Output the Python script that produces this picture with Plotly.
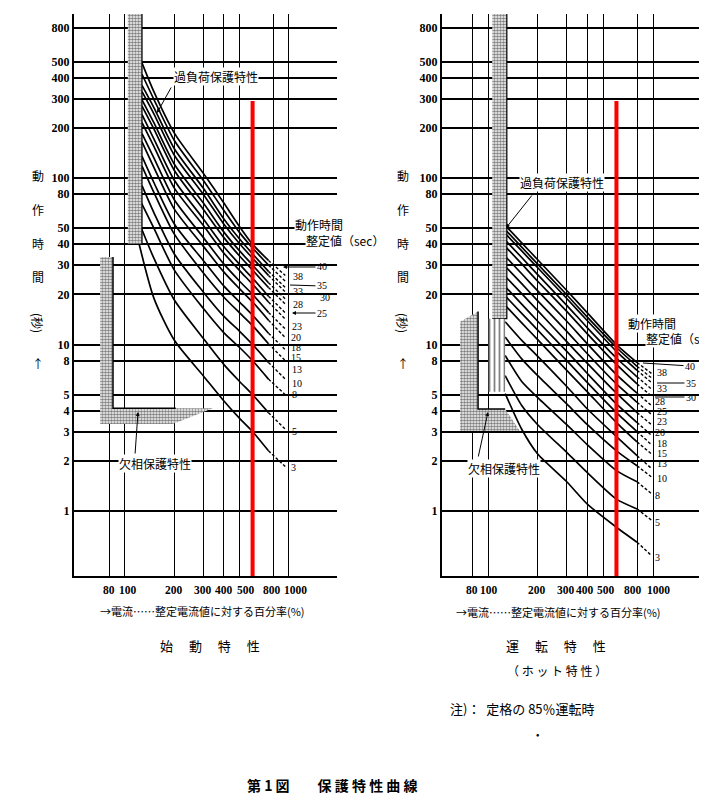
"""
第1図 保護特性曲線 (始動特性 / 運転特性)
"""
import plotly.graph_objects as go

W, H = 707, 803
OX, OY = 8, 8          # page margin of the html body
FW, FH = W - OX, H - OY
JP = "Noto Sans CJK JP"
NUM = "Liberation Serif"

# 動作時間整定値 (sec)
SETTINGS = [3, 5, 8, 10, 13, 15, 18, 20, 23, 25, 28, 30, 33, 35, 38, 40]

# 始動特性 -- seconds (same order as SETTINGS)
COLD_START_PCT = [118, 121, 125, 127, 127, 127, 127, 127, 127, 127, 127, 127, 127, 127, 127, 126]
COLD_START_SEC = [46, 55, 72, 90, 118, 135, 165, 185, 215, 240, 270, 295, 330, 360, 420, 500]
COLD_PCT = [150, 200, 300, 400, 500, 600, 750]
COLD_150 = [19, 33, 50, 62, 82, 94, 116, 132, 155, 172, 197, 215, 243, 265, 297, 330]
COLD_200 = [10.6, 18.5, 28, 35, 46, 53, 65, 74, 87, 97, 111, 121, 137, 150, 168, 186]
COLD_300 = [6.5, 10.9, 16.5, 20.7, 27, 32, 39, 44, 52, 57, 65, 71, 80, 87, 97, 107]
COLD_400 = [4.6, 7.6, 11.8, 14.8, 19.3, 22.5, 27.3, 30.5, 35.5, 38.8, 44, 47.5, 53, 57, 64, 71]
COLD_500 = [3.6, 6.0, 9.6, 12, 15.5, 18, 21.6, 24, 27.8, 30.3, 34, 36.5, 40.3, 43, 47, 51]
COLD_600 = [3, 5, 8, 10, 13, 15, 18, 20, 23, 25, 28, 30, 33, 35, 38, 40]
COLD_750 = [2.3, 3.9, 6.2, 7.8, 10.1, 11.7, 14, 15.6, 18, 19.5, 22, 23.5, 26, 27.5, 30, 32]
COLD_DASH_PCT = [750, 950]
COLD_950 = [1.85, 3.1, 5.0, 6.2, 8.0, 9.3, 11, 12.4, 14.2, 15.5, 17.5, 18.8, 20.7, 22, 24, 26]

# 運転特性 (ホット特性)
HOT_PCT = [127, 160, 200, 300, 400, 600, 800]
HOT_127 = [5.07, 6.5, 8.6, 11.1, 13.7, 17.2, 19.6, 22.3, 25.7, 29.5, 33.9, 38.9, 42.4, 46.5, 49, 52]
HOT_160 = [3.1, 4.3, 6.0, 8.2, 10.6, 13.5, 15.4, 17.5, 20.2, 23.2, 26.6, 30.5, 33.3, 36.5, 38.5, 40.8]
HOT_200 = [2.2, 3.3, 4.8, 6.5, 8.5, 10.7, 12.2, 13.8, 16, 18.3, 21, 24, 26.3, 28.9, 30.4, 32.3]
HOT_300 = [1.5, 2.25, 3.3, 4.4, 5.6, 7.0, 8.0, 9.1, 10.4, 12, 13.8, 15.8, 17.2, 18.9, 19.9, 21.1]
HOT_400 = [1.1, 1.7, 2.5, 3.3, 4.1, 5.2, 5.9, 6.7, 7.7, 8.8, 10.1, 11.6, 12.6, 13.9, 14.6, 15.5]
HOT_600 = [0.8, 1.18, 1.75, 2.3, 2.8, 3.4, 3.9, 4.4, 5.1, 5.8, 6.6, 7.6, 8.3, 9.1, 9.6, 10.0]
HOT_800 = [0.65, 1.03, 1.5, 1.87, 2.15, 2.6, 3.0, 3.4, 3.9, 4.5, 5.1, 5.8, 6.4, 7.0, 7.4, 7.8]
HOT_DASH_PCT = [800, 980]
HOT_980 = [0.54, 0.88, 1.27, 1.6, 1.8, 2.2, 2.5, 2.85, 3.3, 3.8, 4.3, 4.9, 5.4, 5.9, 6.3, 6.7]

# 600% marker
RED_PCT = [600, 600]
RED_SEC = [0.4, 290]

# hatched zones (percent, seconds)
L_BAND_PCT = [104, 127, 127, 104]
L_BAND_SEC = [40, 40, 1000, 1000]
L_PHASE_PCT = [70.5, 84.5, 84.5, 344, 196, 70.5]
L_PHASE_SEC = [33.6, 33.6, 4.15, 4.15, 3.33, 3.33]
R_BAND_PCT = [106, 130, 130, 106]
R_BAND_SEC = [14.3, 14.3, 1000, 1000]
R_BAND_LOW_PCT = [101, 127, 127, 101]
R_BAND_LOW_SEC = [5.2, 5.2, 14.3, 14.3]
R_PHASE_PCT = [67.7, 87, 87, 127, 156, 67.7]
R_PHASE_SEC = [13.7, 15.8, 4.1, 4.1, 3.03, 3.03]

X_TICKS = [80, 100, 200, 300, 400, 500, 800, 1000]
Y_TICKS = [1, 2, 3, 4, 5, 8, 10, 20, 30, 40, 50, 80, 100, 200, 300, 400, 500, 800]

# where the printed x tick numbers sit (pixel centres, they are nudged apart in print)
L_XLABEL_PX = [109, 128, 174, 203, 224, 246, 272, 295]
R_XLABEL_PX = [472, 489, 537, 566, 585, 606, 633, 658]


def px(x):
    return (x - OX) / FW


def py(y):
    return 1 - (y - OY) / FH


fig = go.Figure()

# curves
cold_cols = [COLD_150, COLD_200, COLD_300, COLD_400, COLD_500, COLD_600, COLD_750]
hot_cols = [HOT_127, HOT_160, HOT_200, HOT_300, HOT_400, HOT_600, HOT_800]
for i, t in enumerate(SETTINGS):
    fig.add_trace(go.Scatter(
        x=[COLD_START_PCT[i]] + COLD_PCT,
        y=[COLD_START_SEC[i]] + [c[i] for c in cold_cols],
        mode="lines", line=dict(color="black", width=1.7, shape="spline", smoothing=0.7),
        xaxis="x", yaxis="y", hoverinfo="skip"))
    fig.add_trace(go.Scatter(
        x=COLD_DASH_PCT, y=[COLD_750[i], COLD_950[i]],
        mode="lines", line=dict(color="black", width=1.4, dash="3px,2px"),
        xaxis="x", yaxis="y", hoverinfo="skip"))
    fig.add_trace(go.Scatter(
        x=HOT_PCT, y=[c[i] for c in hot_cols],
        mode="lines", line=dict(color="black", width=1.7, shape="spline", smoothing=0.6),
        xaxis="x2", yaxis="y2", hoverinfo="skip"))
    fig.add_trace(go.Scatter(
        x=HOT_DASH_PCT, y=[HOT_800[i], HOT_980[i]],
        mode="lines", line=dict(color="black", width=1.4, dash="3px,2px"),
        xaxis="x2", yaxis="y2", hoverinfo="skip"))

stipple = dict(shape=".", size=3, solidity=0.6, fgcolor="black", bgcolor="white")
for xs, ys, ax, ay, lw in [
        (L_BAND_PCT, L_BAND_SEC, "x", "y", 1.2),
        (L_PHASE_PCT, L_PHASE_SEC, "x", "y", 0),
        (R_BAND_PCT, R_BAND_SEC, "x2", "y2", 1.2),
        (R_PHASE_PCT, R_PHASE_SEC, "x2", "y2", 0)]:
    fig.add_trace(go.Scatter(
        x=xs, y=ys, fill="toself", mode="lines", fillpattern=stipple,
        line=dict(color="black", width=lw), xaxis=ax, yaxis=ay, hoverinfo="skip"))
fig.add_trace(go.Scatter(
    x=R_BAND_LOW_PCT, y=R_BAND_LOW_SEC, fill="toself", mode="lines",
    fillpattern=dict(shape="|", size=5, solidity=0.35, fgcolor="black", bgcolor="white"),
    line=dict(color="black", width=0), xaxis="x2", yaxis="y2", hoverinfo="skip"))

# inner edges of 欠相 zones
fig.add_trace(go.Scatter(x=L_PHASE_PCT[1:3] + [204], y=L_PHASE_SEC[1:4],
                         mode="lines", line=dict(color="black", width=1.5),
                         xaxis="x", yaxis="y", hoverinfo="skip"))
fig.add_trace(go.Scatter(x=R_PHASE_PCT[1:4], y=R_PHASE_SEC[1:4],
                         mode="lines", line=dict(color="black", width=1.5),
                         xaxis="x2", yaxis="y2", hoverinfo="skip"))

# red 600% lines
for ax, ay in [("x", "y"), ("x2", "y2")]:
    fig.add_trace(go.Scatter(x=RED_PCT, y=RED_SEC, mode="lines",
                             line=dict(color="#ff0000", width=4),
                             xaxis=ax, yaxis=ay, hoverinfo="skip"))

common = dict(type="log", showgrid=True, gridcolor="black", zeroline=False,
              showline=True, linecolor="black", linewidth=2, ticks="")
xcommon = dict(common, tickvals=X_TICKS, showticklabels=False, gridwidth=1.4)
ycommon = dict(common, tickvals=Y_TICKS, ticktext=[str(v) for v in Y_TICKS], gridwidth=1.8,
               range=[-0.39, 2.985], domain=[py(576), py(14)],
               tickfont=dict(family=NUM, size=12, color="black", weight="bold"))

fig.update_layout(
    width=FW, height=FH, margin=dict(l=0, r=0, t=0, b=0),
    paper_bgcolor="white", plot_bgcolor="white", showlegend=False,
    xaxis=dict(xcommon, domain=[px(74), px(337)], range=[1.689, 3.293], anchor="y"),
    yaxis=dict(ycommon, anchor="x"),
    xaxis2=dict(xcommon, domain=[px(442), 1.0], range=[1.721, 3.327], anchor="y2"),
    yaxis2=dict(ycommon, anchor="x2"),
)

ann = []


def text(s, x, y, size=12, family=JP, bg=None, anchor="center", bold=False, **kw):
    font = dict(family=family, size=size, color="black")
    if bold:
        font["weight"] = "bold"
    d = dict(text=s, x=px(x), y=py(y), xref="paper", yref="paper", showarrow=False,
             xanchor=anchor, yanchor="middle", font=font, **kw)
    if bg:
        d.update(bgcolor=bg, borderpad=0)
    ann.append(d)


def arrow(hx, hy, tx, ty, head=2, s="", size=12, family=JP):
    ann.append(dict(text=s, x=px(hx), y=py(hy), xref="paper", yref="paper",
                    ax=tx - hx, ay=ty - hy, showarrow=True, arrowhead=head,
                    arrowsize=0.8, arrowwidth=1, arrowcolor="black", standoff=0,
                    font=dict(family=family, size=size, color="black")))


# x tick numbers
for xs in (L_XLABEL_PX, R_XLABEL_PX):
    for v, x in zip(X_TICKS, xs):
        text(str(v), x, 590, size=11.5, family=NUM, bold=True)

# y titles
for x0 in (38, 403):
    for ch, yy in [("動", 176), ("作", 210), ("時", 244), ("間", 277), ("↑", 363)]:
        text(ch, x0, yy, size=12)
    text("(秒)", x0, 323, size=12, textangle=90)

# x titles
text("→電流……整定電流値に対する百分率(%)", 202, 611, size=11)
text("→電流……整定電流値に対する百分率(%)", 558, 612, size=11)

# annotations in plots
text("過負荷保護特性", 216, 77, size=12, bg="white")
arrow(157, 113, 172, 86)
text("過負荷保護特性", 562, 183, size=12, bg="white")
arrow(506, 228, 533, 194)
text("欠相保護特性", 155, 463, size=12, bg="white")
arrow(138, 412, 135, 455)
text("欠相保護特性", 504, 468, size=12, bg="white")
arrow(488, 412, 478, 458)
text("動作時間", 319, 225, size=12, bg="white")
text("整定値（sec）", 305, 241, size=12, bg="white", anchor="left")
text("動作時間", 652, 323, size=12, bg="white")
text("整定値（sec）", 645, 338, size=12, bg="white", anchor="left")

# curve labels -- 始動特性
LS = 10
arrow(283, 267, 322, 267, head=2, s="40", size=LS, family=NUM)
arrow(290, 285, 322, 286, head=0, s="35", size=LS, family=NUM)
arrow(292, 313, 322, 313, head=2, s="25", size=LS, family=NUM)
for s, x, y in [("38", 298, 277), ("33", 298, 292), ("30", 325, 298), ("28", 298, 305),
                ("23", 297, 326), ("20", 296, 337), ("18", 296, 347), ("15", 296, 357),
                ("13", 297, 369), ("10", 297, 383), ("8", 294, 394), ("5", 294, 431),
                ("3", 293, 467)]:
    text(s, x, y, size=LS, family=NUM)

# curve labels -- 運転特性
arrow(643, 363, 690, 366, head=0, s="40", size=LS, family=NUM)
arrow(657, 383, 691, 383, head=0, s="35", size=LS, family=NUM)
arrow(655, 397, 691, 397, head=0, s="30", size=LS, family=NUM)
for s, x, y in [("38", 662, 372), ("33", 662, 388), ("28", 660, 401), ("25", 662, 411),
                ("23", 662, 421), ("20", 660, 432), ("18", 662, 443), ("15", 662, 453),
                ("13", 662, 463), ("10", 662, 478), ("8", 657, 495), ("5", 657, 522),
                ("3", 657, 557)]:
    text(s, x, y, size=LS, family=NUM)

# captions
text("始　 動　 特　 性", 210, 645, size=13)
text("運　 転　 特　 性", 556, 645, size=13)
text("（ ホ ッ ト 特 性 ）", 557, 670, size=12)
text("注)：  定格の 85％運転時", 522, 708, size=13)
text("•", 537, 733, size=10)
text("<b>第 1 図　　保 護 特 性 曲 線</b>", 332, 785, size=14)

fig.update_layout(annotations=ann)
fig.write_html("out.html")
